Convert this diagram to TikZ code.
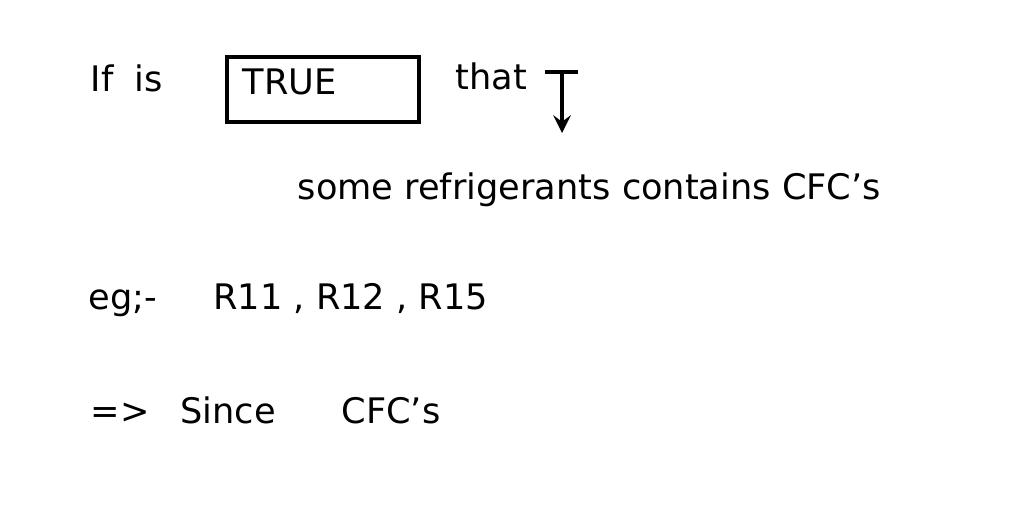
\documentclass[tikz,border=0pt]{standalone}
\usepackage{fontspec}
\setmainfont{DejaVu Sans}
\begin{document}
\begin{tikzpicture}[x=0.01cm,y=-0.01cm,
  hw/.style={anchor=west,inner sep=0pt,font=\fontsize{10}{12}\selectfont},
  ink/.style={line width=1.2pt,black}]
\useasboundingbox[fill=white] (0,0) rectangle (1024,512);
\node[hw] (if) at (90,78) {If\; is};
\node[draw,ink,minimum width=1.92cm,minimum height=0.65cm,anchor=north west,inner sep=0pt] (box) at (225,55) {};
\node[hw] (true) at (242,82) {TRUE};
\node[hw] (that) at (455,76) {that};
\coordinate (tl) at (545,72);
\coordinate (tr) at (578,72);
\coordinate (tt) at (562,72);
\coordinate (tb) at (562,133);
\draw[ink] (tl) -- (tr);
\draw[ink,-stealth] (tt) -- (tb);
\node[hw] (some) at (297,190) {some refrigerants contains CFC's};
\node[hw] (eg) at (88,300) {eg;-\quad\; R11 , R12 , R15};
\node[hw] (since) at (90,410) {=>\;\; Since\quad\;\; CFC's};
\end{tikzpicture}
\end{document}
